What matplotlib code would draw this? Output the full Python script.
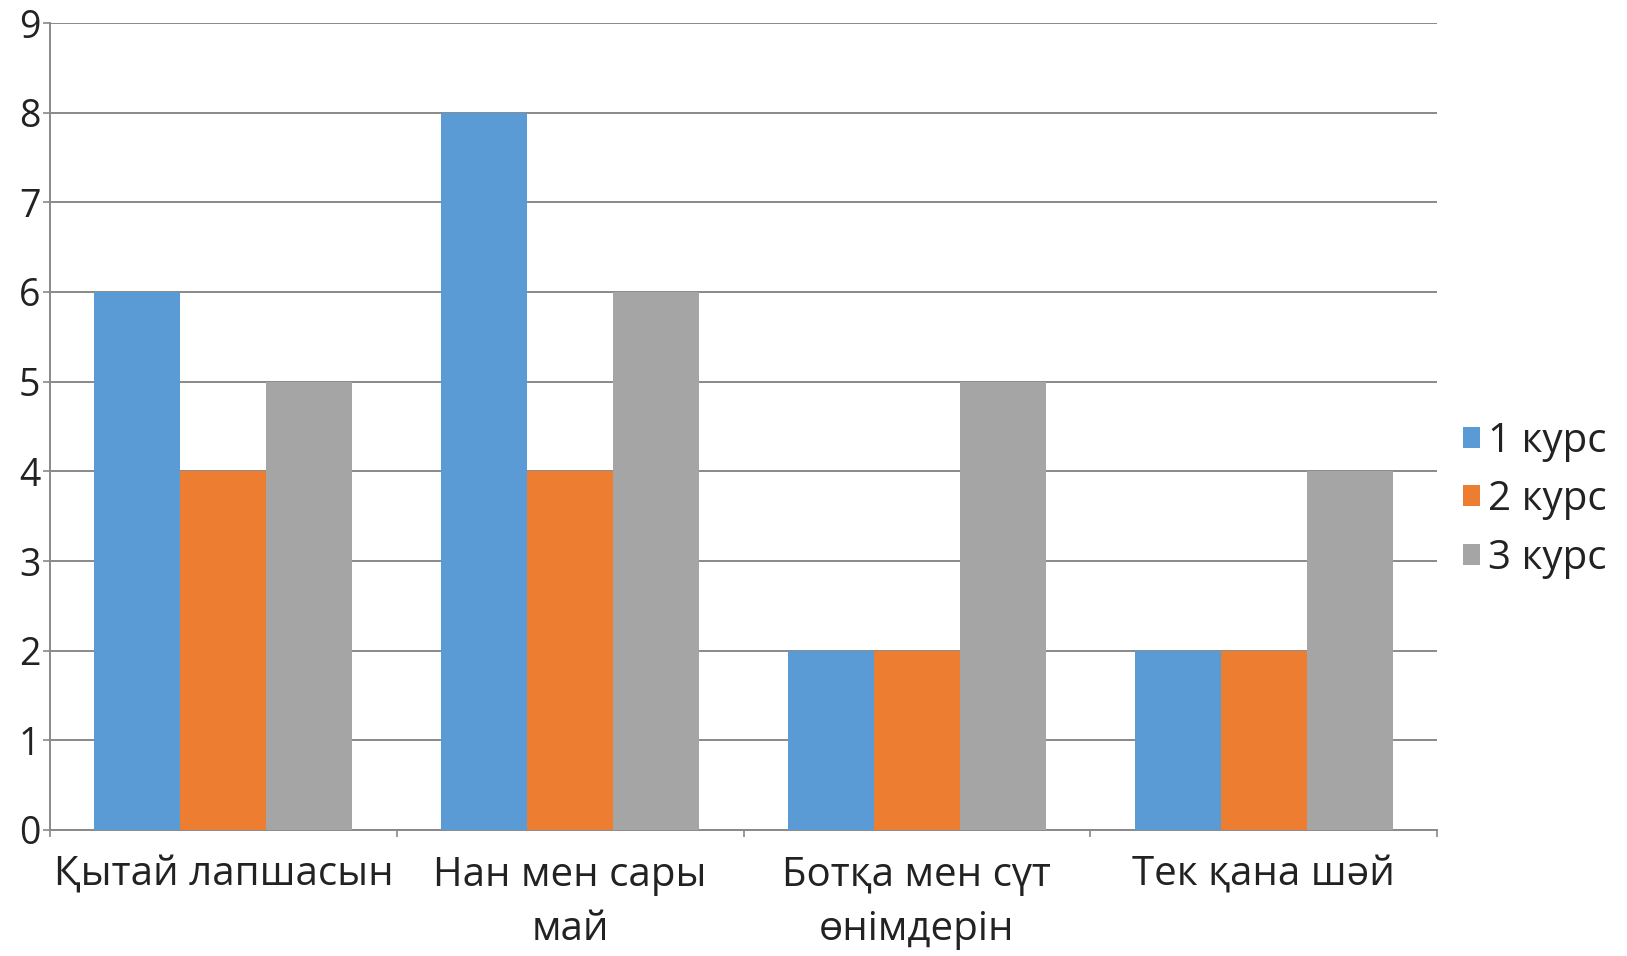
import numpy as np
import matplotlib
matplotlib.use('Agg')
import matplotlib.pyplot as plt
from matplotlib import font_manager

# data
categories = ['Қытай лапшасын', 'Нан мен сары\nмай', 'Ботқа мен сүт\nөнімдерін', 'Тек қана шәй']
series_names = ['1 курс', '2 курс', '3 курс']
kurs1 = [6, 8, 2, 2]
kurs2 = [4, 4, 2, 2]
kurs3 = [5, 6, 5, 4]
y_ticks = [0, 1, 2, 3, 4, 5, 6, 7, 8, 9]

colors = ['#5B9BD5', '#ED7D31', '#A5A5A5']
grid_col = '#898989'

names = set(f.name for f in font_manager.fontManager.ttflist)
fams = [f for f in ['Open Sans', 'DejaVu Sans'] if f in names]
plt.rcParams['font.family'] = fams

W, H = 1627, 956
fig = plt.figure(figsize=(W / 100, H / 100), dpi=100)
ax = fig.add_axes([50 / W, (H - 830) / H, (1437 - 50) / W, (830 - 23) / H])

x = np.arange(len(categories))
bw = 0.248
for i, vals in enumerate([kurs1, kurs2, kurs3]):
    ax.bar(x + (i - 1) * bw, vals, width=bw, color=colors[i], label=series_names[i], zorder=3)

ax.set_xlim(-0.5, len(categories) - 0.5)
ax.set_ylim(0, 9)
ax.set_yticks(y_ticks)
ax.set_yticklabels([str(v) for v in y_ticks])
ax.yaxis.grid(True, color=grid_col, linewidth=1.4, zorder=0)
ax.set_axisbelow(True)

ax.set_xticks(x)
ax.set_xticklabels(categories, linespacing=1.45)
ax.set_xticks(np.arange(-0.5, len(categories)), minor=True)
ax.tick_params(axis='x', which='major', length=0, pad=18, labelsize=29, colors='#222222')
ax.tick_params(axis='x', which='minor', length=5, width=1.2, color=grid_col, direction='out')
ax.tick_params(axis='y', length=5, width=1.2, color=grid_col, pad=2, labelsize=27, labelcolor='#222222')

for s in ['top', 'right']:
    ax.spines[s].set_visible(False)
for s in ['left', 'bottom']:
    ax.spines[s].set_color(grid_col)
    ax.spines[s].set_linewidth(1.4)

fig.legend(loc='center left', bbox_to_anchor=(1447 / W, (H - 500) / H), frameon=False,
           fontsize=29, handlelength=0.42, handleheight=0.42, handletextpad=0.2,
           labelspacing=0.45, borderaxespad=0, labelcolor='#222222')

fig.savefig('out.png', dpi=100)
